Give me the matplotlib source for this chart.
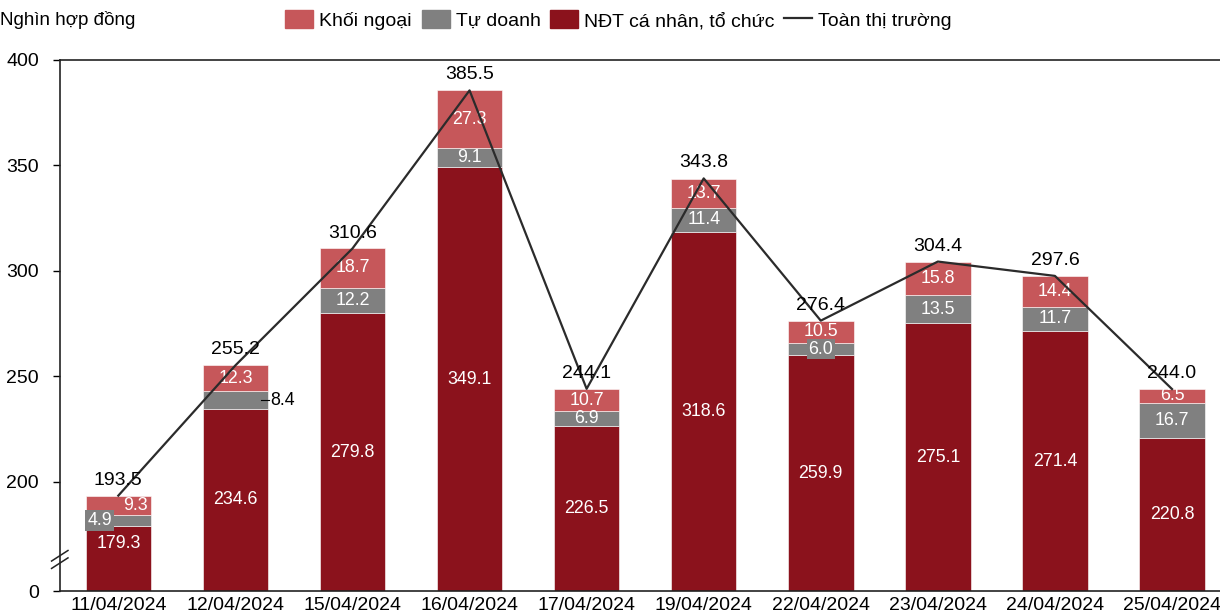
import matplotlib.pyplot as plt
from matplotlib.lines import Line2D
from matplotlib.patches import Patch

plt.rcParams['font.family'] = ['Liberation Sans', 'DejaVu Sans']

dates = ["11/04/2024", "12/04/2024", "15/04/2024", "16/04/2024", "17/04/2024",
         "19/04/2024", "22/04/2024", "23/04/2024", "24/04/2024", "25/04/2024"]
ndt = [179.3, 234.6, 279.8, 349.1, 226.5, 318.6, 259.9, 275.1, 271.4, 220.8]
tu_doanh = [4.9, 8.4, 12.2, 9.1, 6.9, 11.4, 6.0, 13.5, 11.7, 16.7]
khoi_ngoai = [9.3, 12.3, 18.7, 27.3, 10.7, 13.7, 10.5, 15.8, 14.4, 6.5]
total = [193.5, 255.2, 310.6, 385.5, 244.1, 343.8, 276.4, 304.4, 297.6, 244.0]

c_ngoai = "#C6575A"
c_td = "#808080"
c_ndt = "#8B121C"

# broken axis: the "0" tick sits where the linear scale would read ~148
base = 148.3

fig = plt.figure(figsize=(12.2, 6.12), dpi=100)
ax = fig.add_axes([0.049, 0.0343, 0.951, 0.868])

x = list(range(len(dates)))
w = 0.56
ndt_h = [v - base for v in ndt]
ax.bar(x, ndt_h, w, bottom=base, color=c_ndt, edgecolor="white", linewidth=0.4, zorder=2)
ax.bar(x, tu_doanh, w, bottom=ndt, color=c_td, edgecolor="white", linewidth=0.4, zorder=2)
b2 = [a + b for a, b in zip(ndt, tu_doanh)]
ax.bar(x, khoi_ngoai, w, bottom=b2, color=c_ngoai, edgecolor="white", linewidth=0.4, zorder=2)

fs = 12.8
for i in x:
    # NDT label
    y_ndt = (base + ndt[i]) / 2
    if i == 0:
        y_ndt = 171
    ax.text(i, y_ndt, f"{ndt[i]:.1f}", color="white", ha="center", va="center", fontsize=fs, zorder=3)
    # Tu doanh label
    y_td = ndt[i] + tu_doanh[i] / 2
    if i == 0:
        ax.text(i - 0.16, y_td, f"{tu_doanh[i]:.1f}", color="white", ha="center", va="center",
                fontsize=fs, zorder=3,
                bbox=dict(boxstyle="square,pad=0.1", fc=c_td, ec="none"))
    elif i == 1:
        ax.plot([i + 0.22, i + 0.29], [y_td, y_td], color="black", lw=0.8, zorder=3)
        ax.text(i + 0.3, y_td, f"{tu_doanh[i]:.1f}", color="black", ha="left", va="center",
                fontsize=fs, zorder=3)
    elif i == 6:
        ax.text(i, y_td, f"{tu_doanh[i]:.1f}", color="white", ha="center", va="center",
                fontsize=fs, zorder=3,
                bbox=dict(boxstyle="square,pad=0.1", fc=c_td, ec="none"))
    else:
        ax.text(i, y_td, f"{tu_doanh[i]:.1f}", color="white", ha="center", va="center", fontsize=fs, zorder=3)
    # Khoi ngoai label
    y_kn = b2[i] + khoi_ngoai[i] / 2
    dx = 0.15 if i == 0 else 0
    ax.text(i + dx, y_kn, f"{khoi_ngoai[i]:.1f}", color="white", ha="center", va="center", fontsize=fs, zorder=3)

ax.plot(x, total, color="#2b2b2b", lw=1.6, zorder=4)
for i in x:
    ax.annotate(f"{total[i]:.1f}", (i, total[i]), xytext=(0, 5), textcoords="offset points",
                ha="center", va="bottom", fontsize=14, color="black", zorder=5)

ax.set_xlim(-0.5, 9.41)
ax.set_ylim(base, 400)
ax.set_yticks([base, 200, 250, 300, 350, 400])
ax.set_yticklabels(["0", "200", "250", "300", "350", "400"])
ax.set_xticks(x)
ax.set_xticklabels(dates)
ax.tick_params(axis="y", length=5, width=1, labelsize=14, pad=10)
ax.tick_params(axis="x", length=0, labelsize=14, pad=4)
ax.spines["right"].set_visible(False)
for s in ["left", "top", "bottom"]:
    ax.spines[s].set_linewidth(1.2)
    ax.spines[s].set_color("#222222")

# break marks on the y axis
for yy in [161.5, 165.0]:
    ax.plot([-0.57, -0.43], [yy - 2.5, yy + 2.5], color="#222222", lw=1.1,
            clip_on=False, zorder=5)

fig.text(0.0, 0.967, "Nghìn hợp đồng", ha="left", va="center", fontsize=13.5)

handles = [Patch(color=c_ngoai), Patch(color=c_td), Patch(color=c_ndt),
           Line2D([], [], color="#2b2b2b", lw=1.6)]
labels = ["Khối ngoại", "Tự doanh", "NĐT cá nhân, tổ chức", "Toàn thị trường"]
fig.legend(handles, labels, loc="center", bbox_to_anchor=(0.507, 0.967), ncol=4,
           frameon=False, fontsize=14, handlelength=1.45, handleheight=1.05,
           handletextpad=0.3, columnspacing=0.5, borderaxespad=0)

fig.savefig("out.png", dpi=100)
